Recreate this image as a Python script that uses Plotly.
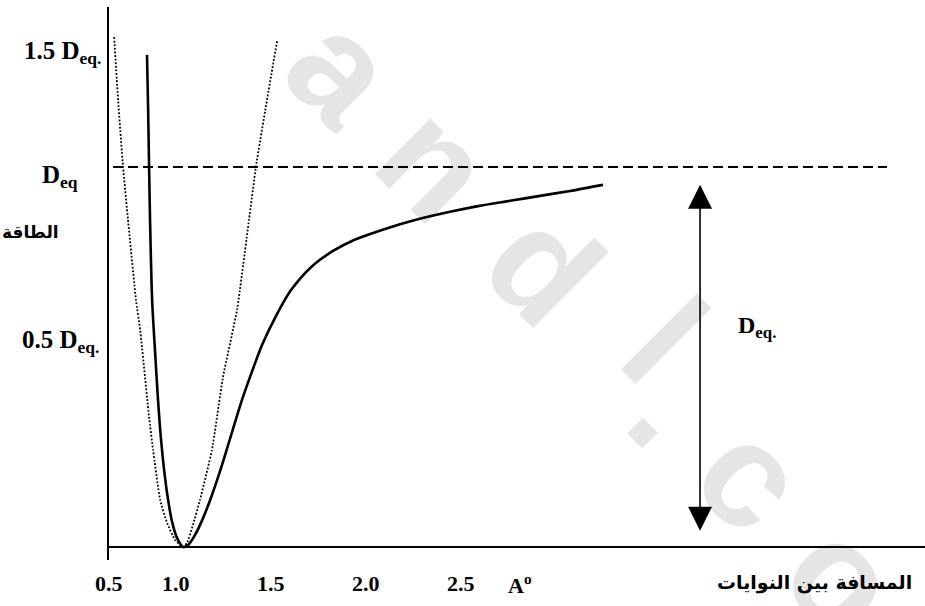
import plotly.graph_objects as go

# ---------------- data (energy in units of D_eq, distance in Å) -------------
morse_r = [0.847, 0.853, 0.858, 0.863, 0.874, 0.889, 0.905, 0.921, 0.937, 0.958, 0.979, 1.005,
           1.037, 1.063, 1.100, 1.142, 1.189, 1.242, 1.295, 1.347, 1.389, 1.453, 1.521, 1.605,
           1.716, 1.826, 1.937, 2.100, 2.263, 2.442, 2.589, 2.758, 2.916, 3.074, 3.247]
morse_e = [1.295, 1.150, 1.000, 0.861, 0.650, 0.518, 0.387, 0.282, 0.203, 0.124, 0.066, 0.024,
           0.000, 0.005, 0.032, 0.076, 0.137, 0.216, 0.303, 0.387, 0.447, 0.532, 0.603, 0.676,
           0.739, 0.779, 0.808, 0.837, 0.861, 0.882, 0.897, 0.911, 0.924, 0.937, 0.953]

harm_r = [0.674, 0.695, 0.721, 0.747, 0.789, 0.811, 0.858, 0.879, 0.916, 0.953, 0.995, 1.037,
          1.058, 1.089, 1.126, 1.189, 1.247, 1.321, 1.384, 1.421, 1.474, 1.532]
harm_e = [1.342, 1.176, 1.000, 0.861, 0.650, 0.571, 0.342, 0.255, 0.124, 0.063, 0.018, 0.000,
          0.011, 0.058, 0.124, 0.255, 0.447, 0.624, 0.861, 1.003, 1.163, 1.332]

deq_value = 1.0
deq_line_r = [0.668, 4.742]

arrow_r = 3.758
arrow_e = [0.039, 0.953]

x_tick_pos = [0.647, 1.0, 1.5, 2.0, 2.5]
x_tick_text = ["0.5", "1.0", "1.5", "2.0", "2.5"]
unit_pos = 2.808
unit_text = "A<sup>o</sup>"

y_tick_pos = [1.300, 0.975, 0.542]
y_tick_text = ["1.5 D<sub>eq.</sub>", "D<sub>eq</sub>", "0.5 D<sub>eq.</sub>"]

deq_label_pos = (4.058, 0.579)
deq_label_text = "D<sub>eq.</sub>"

y_title = "الطاقة"
x_title = "المسافة بين النوايات"

watermark_chars = ["a", "n", "d", "l", ".", "c", "o"]

# ---------------- figure ----------------
SERIF = "Liberation Serif"
fig = go.Figure()

fig.add_trace(go.Scatter(x=harm_r, y=harm_e, mode="lines",
                         line=dict(color="black", width=1.8, dash="1.8px,1.8px",
                                   shape="spline", smoothing=0.4),
                         hoverinfo="skip", showlegend=False))
fig.add_trace(go.Scatter(x=morse_r, y=morse_e, mode="lines",
                         line=dict(color="black", width=2.6, shape="spline", smoothing=0.8),
                         hoverinfo="skip", showlegend=False))
fig.add_trace(go.Scatter(x=deq_line_r, y=[deq_value, deq_value], mode="lines",
                         line=dict(color="black", width=1.8, dash="10px,5px"),
                         hoverinfo="skip", showlegend=False))

annotations = []
# double-headed arrow
annotations.append(dict(x=arrow_r, y=arrow_e[1], ax=arrow_r, ay=arrow_e[0],
                        xref="x", yref="y", axref="x", ayref="y", text="",
                        showarrow=True, arrowhead=2, startarrowhead=2, arrowside="end+start",
                        arrowsize=3.0, startarrowsize=3.0, arrowwidth=1.6, arrowcolor="black"))

# x tick labels
for xv, t in zip(x_tick_pos, x_tick_text):
    annotations.append(dict(x=xv, y=-0.043, xref="x", yref="paper", text="<b>%s</b>" % t,
                            showarrow=False, xanchor="center", yanchor="middle",
                            font=dict(family=SERIF, size=22, color="black")))
annotations.append(dict(x=unit_pos, y=-0.043, xref="x", yref="paper", text="<b>%s</b>" % unit_text,
                        showarrow=False, xanchor="center", yanchor="middle",
                        font=dict(family=SERIF, size=22, color="black")))

# y tick labels
y_label_right = [-0.0074, -0.0355, -0.0098]
for yv, t, xr in zip(y_tick_pos, y_tick_text, y_label_right):
    annotations.append(dict(x=xr, y=yv, xref="paper", yref="y", text="<b>%s</b>" % t,
                            showarrow=False, xanchor="right", yanchor="middle",
                            font=dict(family=SERIF, size=25, color="black")))

annotations.append(dict(x=deq_label_pos[0], y=deq_label_pos[1], xref="x", yref="y",
                        text="<b>%s</b>" % deq_label_text, showarrow=False,
                        xanchor="center", yanchor="middle",
                        font=dict(family=SERIF, size=24, color="black")))

# Arabic axis titles
annotations.append(dict(x=-0.0956, y=0.593, xref="paper", yref="paper", text="<b>%s</b>" % y_title,
                        showarrow=False, xanchor="center", yanchor="middle",
                        font=dict(family="DejaVu Sans", size=17, color="black")))
annotations.append(dict(x=0.865, y=-0.040, xref="paper", yref="paper", text="<b>%s</b>" % x_title,
                        showarrow=False, xanchor="center", yanchor="middle",
                        font=dict(family="DejaVu Sans", size=19, color="black")))

# watermark (behind everything)
wm_x = [0.298, 0.413, 0.546, 0.693, 0.701, 0.800, 0.912]
wm_y = [0.907, 0.737, 0.548, 0.415, 0.299, 0.170, -0.012]
shapes = []
for ch, cx, cy in zip(watermark_chars, wm_x, wm_y):
    shapes.append(dict(type="rect", xref="paper", yref="paper",
                       x0=cx - 0.01, x1=cx + 0.01, y0=cy - 0.01, y1=cy + 0.01,
                       line=dict(width=0), fillcolor="rgba(0,0,0,0)", layer="below",
                       label=dict(text=ch, textangle=45, textposition="middle center",
                                  font=dict(family="Liberation Sans", size=148, color="#e5e5e5",
                                            weight="bold"))))

fig.update_layout(
    width=925, height=606,
    margin=dict(l=109, r=0, t=7, b=46),
    paper_bgcolor="white", plot_bgcolor="rgba(0,0,0,0)",
    showlegend=False,
    annotations=annotations,
    shapes=shapes,
    xaxis=dict(range=[0.647, 4.942], showgrid=False, zeroline=False, showline=False,
               showticklabels=False, ticks="", fixedrange=True),
    yaxis=dict(range=[-0.0342, 1.421], showgrid=False, zeroline=True, zerolinecolor="black",
               zerolinewidth=2.2, showline=True, linecolor="black", linewidth=2,
               showticklabels=False, ticks="", fixedrange=True),
)

fig.write_html("out.html", config={"displayModeBar": False})
